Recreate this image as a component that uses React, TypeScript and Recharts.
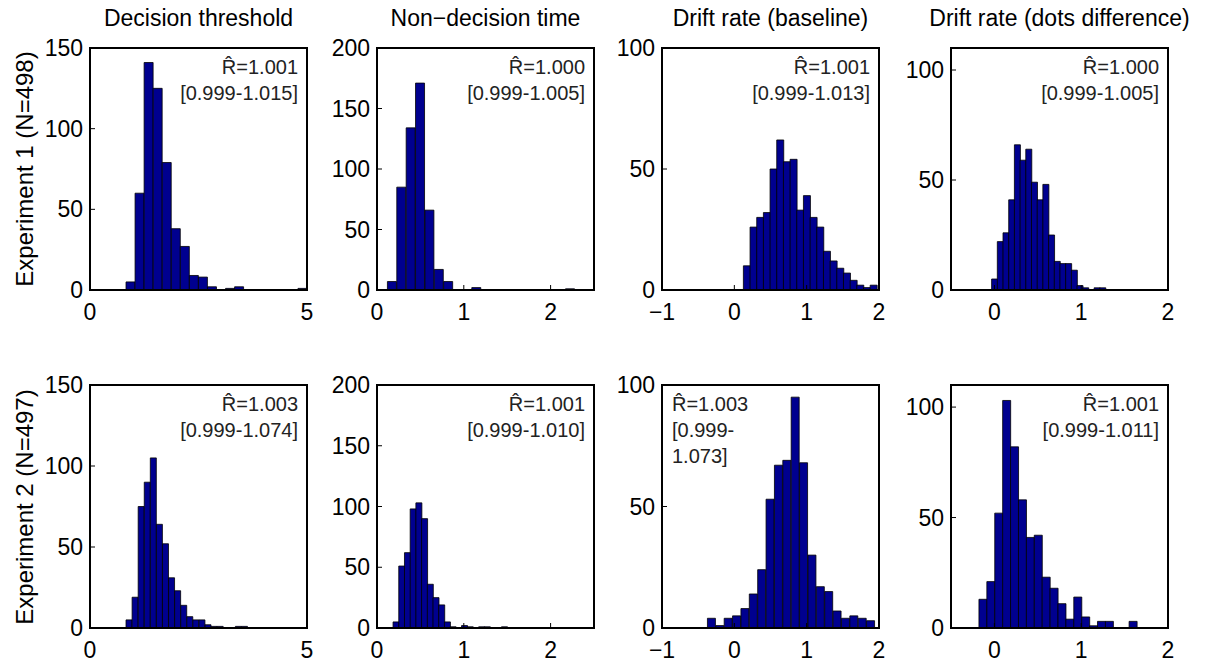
import { BarChart, Bar, XAxis, YAxis, ReferenceArea } from "recharts";

const titles = ["Decision threshold", "Non\u2212decision time", "Drift rate (baseline)", "Drift rate (dots difference)"];
const rowLabels = ["Experiment 1 (N=498)", "Experiment 2 (N=497)"];

// histogram ranges [lo, hi], 20 equal bins each
const exp1Ranges = [[0.83, 5.0], [0.12, 2.28], [0.125, 1.97], [-0.032, 1.28]];
const exp2Ranges = [[0.83, 3.63], [0.185, 1.5], [-0.372, 1.944], [-0.178, 1.643]];

// bin counts
const exp1Threshold = [5, 60, 141, 125, 79, 38, 27, 9, 8, 2, 0, 1, 2, 0, 0, 0, 0, 0, 0, 1];
const exp1NonDecision = [7, 85, 134, 171, 66, 17, 7, 0, 0, 2, 0, 0, 0, 0, 0, 0, 0, 0, 0, 1];
const exp1DriftBase = [10, 26, 30, 32, 50, 62, 53, 54, 33, 39, 30, 26, 16, 12, 9, 7, 4, 2, 1, 2];
const exp1DriftDots = [5, 22, 26, 41, 66, 59, 64, 49, 41, 48, 25, 13, 12, 12, 9, 2, 1, 0, 1, 1];
const exp2Threshold = [5, 19, 75, 90, 105, 64, 52, 31, 23, 14, 7, 5, 5, 2, 1, 1, 0, 0, 1, 1];
const exp2NonDecision = [5, 51, 62, 98, 103, 90, 36, 25, 19, 5, 1, 0, 2, 1, 0, 1, 1, 0, 0, 1];
const exp2DriftBase = [4, 1, 4, 5, 8, 14, 24, 53, 67, 69, 95, 68, 30, 17, 15, 7, 4, 5, 4, 3];
const exp2DriftDots = [13, 21, 52, 103, 82, 58, 41, 42, 23, 18, 11, 4, 14, 5, 1, 3, 3, 0, 0, 3];

const rhat1 = ["1.001", "1.000", "1.001", "1.000"];
const interval1 = ["[0.999-1.015]", "[0.999-1.005]", "[0.999-1.013]", "[0.999-1.005]"];
const rhat2 = ["1.003", "1.001", "1.003", "1.001"];
const interval2 = ["[0.999-1.074]", "[0.999-1.010]", "[0.999-1.073]", "[0.999-1.011]"];

const xDomains = [[0, 5], [0, 2.5], [-1, 2], [-0.5, 2]];
const xTicks = [[0, 5], [0, 1, 2], [-1, 0, 1, 2], [0, 1, 2]];
const yDomains = [[0, 150], [0, 200], [0, 100], [0, 110]];
const yTicks = [[0, 50, 100, 150], [0, 50, 100, 150, 200], [0, 50, 100], [0, 50, 100]];

const BOX_LEFT = [90, 377, 662, 951];
const BOX_TOP = [48, 385];
const BOX_H = [242, 243];
const BOX_W = 217;
const Y_W = 60;
const X_H = 42;
const M_TOP = 18;
const M_RIGHT = 12;
const FONT = "'Liberation Sans', Arial, Helvetica, sans-serif";

function toBins(range: number[], counts: number[]) {
  const w = (range[1] - range[0]) / counts.length;
  return counts.map((c, i) => ({ x: range[0] + w * (i + 0.5), count: c }));
}

const fmt = (v: number) => (v < 0 ? "\u2212" + Math.abs(v) : String(v));

function Panel({ row, col, counts, range }: { row: number; col: number; counts: number[]; range: number[] }) {
  const data = toBins(range, counts);
  const h = BOX_H[row];
  const axisLine = { stroke: "#000", strokeWidth: 2 };
  const tickLine = { stroke: "#000", strokeWidth: 1 };
  return (
    <div style={{ position: "absolute", left: BOX_LEFT[col] - Y_W, top: BOX_TOP[row] - M_TOP }}>
      <BarChart
        width={Y_W + BOX_W + M_RIGHT}
        height={M_TOP + h + X_H}
        data={data}
        margin={{ top: M_TOP - 1, right: M_RIGHT - 1, bottom: 0, left: 0 }}
        barCategoryGap={0}
        barGap={0}
      >
        <XAxis
          xAxisId="b"
          dataKey="x"
          type="number"
          domain={xDomains[col]}
          ticks={xTicks[col]}
          interval={0}
          allowDataOverflow
          height={X_H}
          tickSize={-5}
          tickMargin={19}
          axisLine={axisLine}
          tickLine={tickLine}
          tick={{ fill: "#000", fontSize: 23 }}
          tickFormatter={fmt}
        />
        <XAxis
          xAxisId="t"
          orientation="top"
          dataKey="x"
          type="number"
          domain={xDomains[col]}
          ticks={xTicks[col]}
          interval={0}
          allowDataOverflow
          height={1}
          tickSize={-5}
          axisLine={axisLine}
          tickLine={tickLine}
          tick={false}
        />
        <YAxis
          yAxisId="l"
          type="number"
          domain={yDomains[col]}
          ticks={yTicks[col]}
          interval={0}
          allowDataOverflow
          width={Y_W}
          tickSize={-5}
          tickMargin={12}
          axisLine={axisLine}
          tickLine={tickLine}
          tick={{ fill: "#000", fontSize: 23 }}
        />
        <YAxis
          yAxisId="r"
          orientation="right"
          type="number"
          domain={yDomains[col]}
          ticks={yTicks[col]}
          interval={0}
          allowDataOverflow
          width={1}
          tickSize={-5}
          axisLine={axisLine}
          tickLine={tickLine}
          tick={false}
        />
        <Bar
          xAxisId="b"
          yAxisId="l"
          dataKey="count"
          fill="#00008f"
          stroke="#000"
          strokeWidth={0.8}
          isAnimationActive={false}
        />
        <ReferenceArea
          xAxisId="b"
          yAxisId="l"
          x1={xDomains[col][0]}
          x2={xDomains[col][1]}
          y1={yDomains[col][0]}
          y2={yDomains[col][1]}
          fill="none"
          fillOpacity={0}
          stroke="#000"
          strokeWidth={2}
          ifOverflow="visible"
        />
      </BarChart>
    </div>
  );
}

function Annotation({ row, col, rhat, interval }: { row: number; col: number; rhat: string; interval: string }) {
  const leftAligned = row === 1 && col === 2;
  const lines = leftAligned ? ["R\u0302=" + rhat, interval.slice(0, 7), interval.slice(7)] : ["R\u0302=" + rhat, interval];
  const style: React.CSSProperties = {
    position: "absolute",
    top: BOX_TOP[row] + 6,
    fontSize: 20,
    lineHeight: "26px",
    color: "#222",
    whiteSpace: "nowrap",
    fontFamily: FONT,
  };
  if (leftAligned) {
    style.left = BOX_LEFT[col] + 10;
    style.textAlign = "left";
  } else {
    style.left = BOX_LEFT[col];
    style.width = BOX_W - 9;
    style.textAlign = "right";
  }
  return (
    <div style={style}>
      {lines.map((l, i) => (
        <div key={i}>{l}</div>
      ))}
    </div>
  );
}

export default function App() {
  const rows = [
    { counts: [exp1Threshold, exp1NonDecision, exp1DriftBase, exp1DriftDots], ranges: exp1Ranges, rhat: rhat1, interval: interval1 },
    { counts: [exp2Threshold, exp2NonDecision, exp2DriftBase, exp2DriftDots], ranges: exp2Ranges, rhat: rhat2, interval: interval2 },
  ];
  return (
    <div
      style={{
        position: "absolute",
        left: 0,
        top: 0,
        width: 1215,
        height: 663,
        background: "#fff",
        fontFamily: FONT,
        overflow: "hidden",
      }}
    >
      {titles.map((t, c) => (
        <div
          key={t}
          style={{
            position: "absolute",
            left: BOX_LEFT[c] - 40,
            width: BOX_W + 80,
            top: 5,
            textAlign: "center",
            fontSize: 23,
            lineHeight: "26px",
            whiteSpace: "nowrap",
            color: "#000",
          }}
        >
          {t}
        </div>
      ))}
      {rowLabels.map((t, r) => (
        <div
          key={t}
          style={{
            position: "absolute",
            left: 25,
            top: BOX_TOP[r] + BOX_H[r] / 2,
            transform: "translate(-50%, -50%) rotate(-90deg)",
            fontSize: 24,
            lineHeight: "26px",
            whiteSpace: "nowrap",
            color: "#000",
          }}
        >
          {t}
        </div>
      ))}
      {rows.map((rw, r) =>
        rw.counts.map((cnt, c) => (
          <Panel key={`p${r}${c}`} row={r} col={c} counts={cnt} range={rw.ranges[c]} />
        ))
      )}
      {rows.map((rw, r) =>
        rw.rhat.map((v, c) => (
          <Annotation key={`a${r}${c}`} row={r} col={c} rhat={v} interval={rw.interval[c]} />
        ))
      )}
    </div>
  );
}
